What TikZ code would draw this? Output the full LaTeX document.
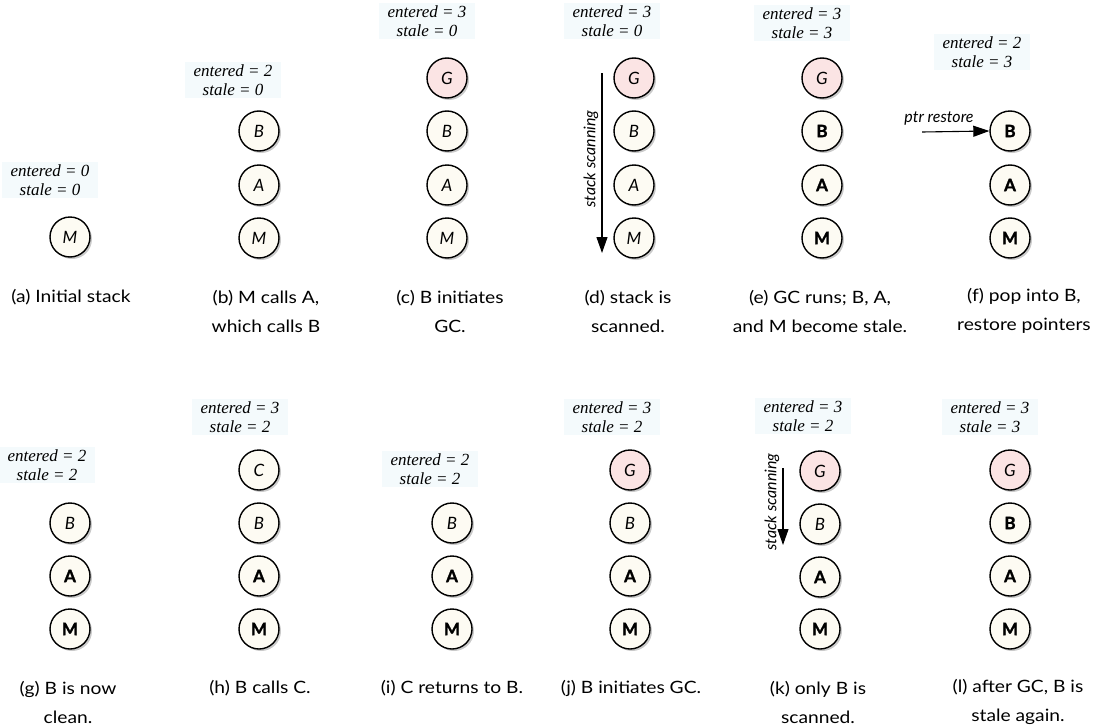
\documentclass[tikz,border=0pt]{standalone}
\usepackage{fontspec}
\setmainfont{Liberation Serif}
\newfontfamily\labfamily{Liberation Serif}
\newfontfamily\capfamily{Lato}[FakeStretch=1.13]
\newfontfamily\letfamily{Lato}[BoldFeatures={FakeBold=1.6}]
\usetikzlibrary{shadows,arrows.meta}
\definecolor{cream}{RGB}{253,251,243}
\definecolor{gcpink}{RGB}{251,228,228}
\definecolor{labbg}{RGB}{244,250,252}
\tikzset{
  frame/.style={circle, draw, line width=1.4pt, minimum size=40pt, inner sep=0pt, fill=cream,
    drop shadow={shadow xshift=2pt, shadow yshift=-2pt, opacity=0.35, fill=black!60}},
  fresh/.style={frame, font=\letfamily\fontsize{17}{17}\selectfont\itshape},
  stalen/.style={frame, font=\letfamily\fontsize{17}{17}\selectfont\bfseries},
  gcn/.style={fresh, fill=gcpink},
  lab/.style={fill=labbg, align=center, inner xsep=9pt, inner ysep=3pt,
    font=\labfamily\fontsize{17}{19}\selectfont\itshape},
  capt/.style={align=center, inner sep=0pt, font=\capfamily\fontsize{17}{29}\selectfont},
  scan/.style={font=\letfamily\fontsize{16}{16}\selectfont\itshape},
  arr/.style={line width=1.1pt, -{Triangle[length=16pt,width=11pt]}}
}
\begin{document}
\begin{tikzpicture}[x=1pt,y=-1pt]
\useasboundingbox (0,0) rectangle (1098,728);
% ---------- top row ----------
% (a)
\node[fresh] (aM) at (70,237) {M};
\node[lab] (aL) at (50,180) {entered = 0\\stale = 0};
\node[capt] (aC) at (71,297) {(a) Initial stack};
% (b)
\node[fresh] (bB) at (259,131) {B};
\node[fresh] (bA) at (259,185) {A};
\node[fresh] (bM) at (259,238) {M};
\node[lab] (bL) at (233,80) {entered = 2\\stale = 0};
\node[capt] (bC) at (266,311) {(b) M calls A,\\which calls B};
% (c)
\node[gcn] (cG) at (447,78) {G};
\node[fresh] (cB) at (447,131) {B};
\node[fresh] (cA) at (447,185) {A};
\node[fresh] (cM) at (447,238) {M};
\node[lab] (cL) at (427,21) {entered = 3\\stale = 0};
\node[capt] (cC) at (450,311) {(c) B initiates\\GC.};
% (d)
\node[gcn] (dG) at (634,78) {G};
\node[fresh] (dB) at (634,131) {B};
\node[fresh] (dA) at (634,185) {A};
\node[fresh] (dM) at (634,238) {M};
\node[lab] (dL) at (612,21) {entered = 3\\stale = 0};
\coordinate (dS) at (602,73);
\coordinate (dE) at (602,253);
\draw[arr] (dS) -- (dE);
\node[scan, rotate=90] (dT) at (591,159) {stack scanning};
\node[capt] (dC) at (628,311) {(d) stack is\\scanned.};
% (e)
\node[gcn] (eG) at (822,78) {G};
\node[stalen] (eB) at (822,131) {B};
\node[stalen] (eA) at (822,185) {A};
\node[stalen] (eM) at (822,238) {M};
\node[lab] (eL) at (802,23) {entered = 3\\stale = 3};
\node[capt] (eC) at (820,311) {(e) GC runs; B, A,\\and M become stale.};
% (f)
\node[stalen] (fB) at (1010,131) {B};
\node[stalen] (fA) at (1010,185) {A};
\node[stalen] (fM) at (1010,238) {M};
\node[lab] (fL) at (982,52) {entered = 2\\stale = 3};
\coordinate (fS) at (922,132);
\draw[arr] (fS) -- (fB.west);
\node[scan] (fT) at (939,119) {ptr restore};
\node[capt] (fC) at (1024,311) {(f) pop into B,\\restore pointers};
% ---------- bottom row ----------
% (g)
\node[fresh] (gB) at (70,523) {B};
\node[stalen] (gA) at (70,576) {A};
\node[stalen] (gM) at (70,629) {M};
\node[lab] (gL) at (47,465) {entered = 2\\stale = 2};
\node[capt] (gC) at (68,702) {(g) B is now\\clean.};
% (h)
\node[fresh] (hC) at (259,470) {C};
\node[fresh] (hB) at (259,523) {B};
\node[stalen] (hA) at (259,576) {A};
\node[stalen] (hM) at (259,629) {M};
\node[lab] (hL) at (240,417) {entered = 3\\stale = 2};
\node[capt] (hCap) at (260,688) {(h) B calls C.};
% (i)
\node[fresh] (iB) at (452,523) {B};
\node[stalen] (iA) at (452,576) {A};
\node[stalen] (iM) at (452,629) {M};
\node[lab] (iL) at (430,469) {entered = 2\\stale = 2};
\node[capt] (iC) at (452,688) {(i) C returns to B.};
% (j)
\node[gcn] (jG) at (630,470) {G};
\node[fresh] (jB) at (630,523) {B};
\node[stalen] (jA) at (630,576) {A};
\node[stalen] (jM) at (630,629) {M};
\node[lab] (jL) at (612,417) {entered = 3\\stale = 2};
\node[capt] (jC) at (631,688) {(j) B initiates GC.};
% (k)
\node[gcn] (kG) at (820,471) {G};
\node[fresh] (kB) at (820,524) {B};
\node[stalen] (kA) at (820,577) {A};
\node[stalen] (kM) at (820,629) {M};
\node[lab] (kL) at (803,416) {entered = 3\\stale = 2};
\coordinate (kS) at (783,468);
\coordinate (kE) at (783,545);
\draw[arr] (kS) -- (kE);
\node[scan, rotate=90] (kT) at (772,502) {stack scanning};
\node[capt] (kC) at (818,702) {(k) only B is\\scanned.};
% (l)
\node[gcn] (lG) at (1010,470) {G};
\node[stalen] (lB) at (1010,523) {B};
\node[stalen] (lA) at (1010,576) {A};
\node[stalen] (lM) at (1010,629) {M};
\node[lab] (lL) at (990,417) {entered = 3\\stale = 3};
\node[capt] (lC) at (1018,702) {(l) after GC, B is\\stale again.};
\end{tikzpicture}
\end{document}
